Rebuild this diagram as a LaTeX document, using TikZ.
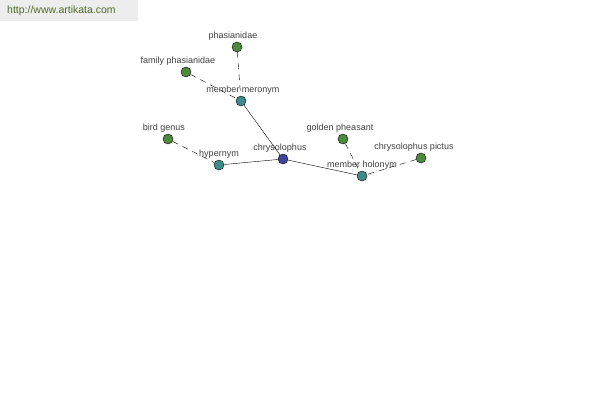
\documentclass[tikz,border=0pt]{standalone}
\usepackage{fontspec}
\setmainfont{Liberation Sans}
\usepackage{tikz}
\usetikzlibrary{positioning}
\definecolor{leafgreen}{HTML}{4E8A3E}
\definecolor{relteal}{HTML}{3E8C8C}
\definecolor{mainblue}{HTML}{3F4598}
\definecolor{sitegreen}{HTML}{4F6B26}
\tikzset{
	word/.style={circle, draw=black, fill=leafgreen, inner sep=0pt, minimum size=10pt,
		label distance=0pt},
	relation/.style={word, fill=relteal},
	head/.style={word, fill=mainblue},
	every label/.style={font=\fontsize{9}{10}\selectfont, text=black!75, inner sep=1pt},
	link/.style={dash pattern=on 6pt off 5pt}
}

\begin{document}
\begin{tikzpicture}[x=1pt, y=-1pt]
		\useasboundingbox (0, 0) rectangle (600, 400);
		\fill[black!7] (0, 0) rectangle (138, 21);
		\node[anchor=west, text=sitegreen, font=\fontsize{10.5}{11}\selectfont, inner sep=0pt] (site) at (7, 11) {http://www.artikata.com};

		\node[head, label={[xshift=-3pt]above:chrysolophus}] (chrysolophus) at (283, 159) {};
		\node[relation, label={[xshift=2pt]above:member meronym}] (meronym) at (241, 101) {};
		\node[relation, label=above:hypernym] (hypernym) at (219, 165) {};
		\node[relation, label=above:member holonym] (holonym) at (362, 176) {};

		\node[word, label={[xshift=-4pt]above:phasianidae}] (phasianidae) at (237, 47) {};
		\node[word, label={[xshift=-8pt]above:family phasianidae}] (family) at (186, 72) {};
		\node[word, label={[xshift=-4pt]above:bird genus}] (genus) at (168, 139) {};
		\node[word, label={[xshift=-3pt]above:golden pheasant}] (golden) at (343, 139) {};
		\node[word, label={[xshift=-7pt]above:chrysolophus pictus}] (pictus) at (421, 158) {};

		\draw (chrysolophus) -- (meronym);
		\draw (chrysolophus) -- (hypernym);
		\draw (chrysolophus) -- (holonym);

		\draw[link] (phasianidae) -- (meronym);
		\draw[link] (family) -- (meronym);
		\draw[link] (genus) -- (hypernym);
		\draw[link] (golden) -- (holonym);
		\draw[link] (pictus) -- (holonym);
	\end{tikzpicture}
\end{document}
